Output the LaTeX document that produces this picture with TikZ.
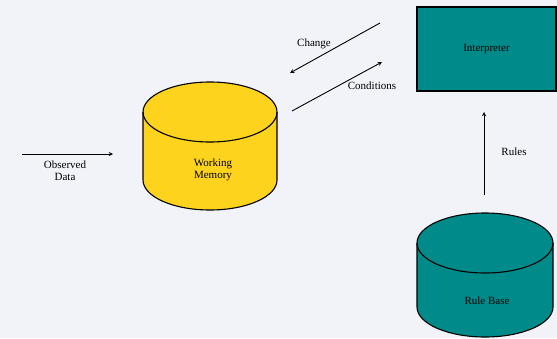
\documentclass[tikz,border=0pt]{standalone}
\usepackage{fontspec}
\setmainfont{Liberation Serif}
\usepackage{tikz}
\usetikzlibrary{calc}
\definecolor{bg}{HTML}{F2F3F8}
\definecolor{wmyellow}{HTML}{FDD31E}
\definecolor{kbteal}{HTML}{008B8A}
\tikzset{>=stealth, lbl/.style={font=\fontsize{11}{12}\selectfont, align=center, inner sep=0pt}}

% drum: left top corner, right x, bottom cap y, fill colour
\newcommand{\drum}[5]{%
  \filldraw[fill=#5, line width=1.1pt] (#1,#2) -- (#1,#4)
    arc[start angle=180, end angle=360, x radius=#3pt, y radius=30pt]
    -- ($(#1,#2)+(2*#3,0)$)
    arc[start angle=0, end angle=180, x radius=#3pt, y radius=30pt] -- cycle;
  \draw[line width=1.1pt] (#1,#2) arc[start angle=180, end angle=360, x radius=#3pt, y radius=30pt];
}

\begin{document}
\begin{tikzpicture}[x=1pt, y=-1pt]
  \fill[bg] (0,0) rectangle (557,338);
  \useasboundingbox (0,0) rectangle (557,338);

  \drum{143}{112}{67}{180}{wmyellow}
  \drum{417}{243}{68}{307}{kbteal}

  \node[lbl] (wm) at (213,170) {Working\\Memory};
  \node[lbl] (rb) at (487,301) {Rule Base};
  \node[lbl, draw, fill=kbteal, line width=1.1pt,
        minimum width=139pt, minimum height=84pt] (ip) at (486.5,49) {Interpreter};

  \coordinate (od1) at (22,154);
  \coordinate (od2) at (113,154);
  \coordinate (ch1) at (380,23);
  \coordinate (ch2) at (290,73);
  \coordinate (co1) at (292,111);
  \coordinate (co2) at (382,62);
  \coordinate (ru1) at (484,195);
  \coordinate (ru2) at (484,112);

  \draw[->, line width=0.9pt] (od1) to (od2);
  \draw[->, line width=0.9pt] (ch1) to (ch2);
  \draw[->, line width=0.9pt] (co1) to (co2);
  \draw[->, line width=0.9pt] (ru1) to (ru2);

  \node[lbl] (od) at (65,171) {Observed\\Data};
  \node[lbl] (ch) at (314,44) {Change};
  \node[lbl] (co) at (372,86) {Conditions};
  \node[lbl] (ru) at (514,152) {Rules};
\end{tikzpicture}
\end{document}
